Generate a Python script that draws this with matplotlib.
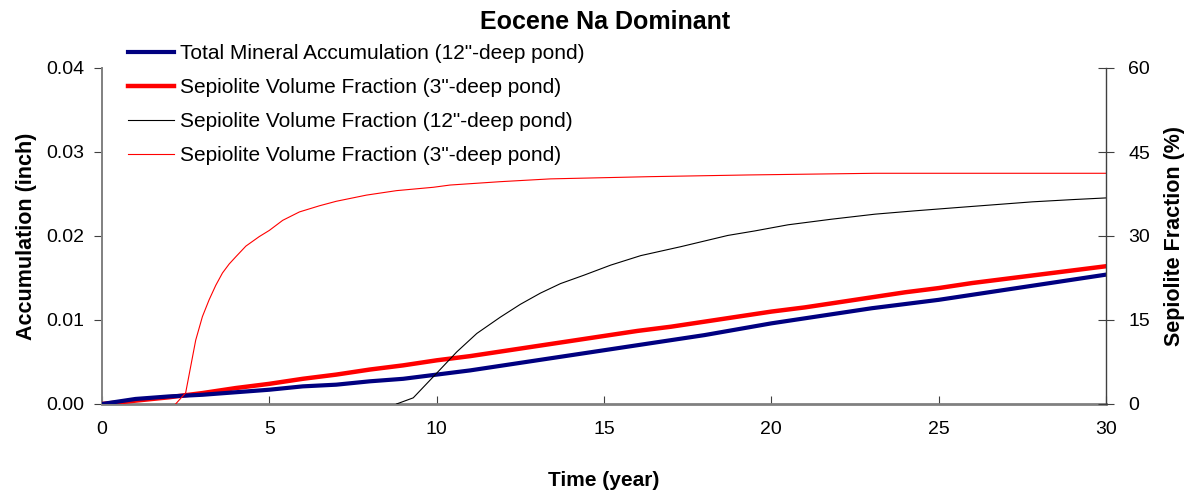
import matplotlib.pyplot as plt
import numpy as np

plt.rcParams["font.family"] = ["Liberation Sans", "DejaVu Sans"]

# yearly accumulation (inch), left axis
years = [0, 1, 2, 3, 4, 5, 6, 7, 8, 9, 10, 11, 12, 13, 14, 15,
         16, 17, 18, 19, 20, 21, 22, 23, 24, 25, 26, 27, 28, 29, 30]
total_12in = [0.0, 0.0006, 0.0009, 0.0011, 0.0014, 0.0017, 0.0021, 0.0023,
              0.0027, 0.0030, 0.0035, 0.0040, 0.0046, 0.0052, 0.0058, 0.0064,
              0.0070, 0.0076, 0.0082, 0.0089, 0.0096, 0.0102, 0.0108, 0.0114,
              0.0119, 0.0124, 0.0130, 0.0136, 0.0142, 0.0148, 0.0154]
total_3in = [0.0, 0.0004, 0.0008, 0.0013, 0.0019, 0.0024, 0.0030, 0.0035,
             0.0041, 0.0046, 0.0052, 0.0057, 0.0063, 0.0069, 0.0075, 0.0081,
             0.0087, 0.0092, 0.0098, 0.0104, 0.0110, 0.0115, 0.0121, 0.0127,
             0.0133, 0.0138, 0.0144, 0.0149, 0.0154, 0.0159, 0.0164]

# sepiolite volume fraction (%), right axis
t_sep_12in = [8.8, 9.3, 10.0, 10.6, 11.2, 11.9, 12.5, 13.1, 13.7, 14.4,
              15.2, 16.1, 17.3, 18.7, 19.5, 20.5, 21.8, 23.1, 24.3, 25.6,
              26.7, 27.8, 29.0, 30.0]
sep_12in = [0.0, 1.1, 5.5, 9.3, 12.6, 15.5, 17.8, 19.8, 21.5, 23.0,
            24.8, 26.5, 28.1, 30.1, 30.9, 32.0, 33.0, 33.9, 34.5, 35.1,
            35.6, 36.1, 36.5, 36.8]
t_sep_3in = [2.2, 2.5, 2.8, 3.0, 3.2, 3.4, 3.6, 3.8, 4.0, 4.3, 4.7, 5.0,
             5.4, 5.9, 6.5, 7.0, 7.9, 8.8, 9.9, 10.4, 11.9, 13.4, 16.4,
             19.3, 23.1, 30.0]
sep_3in = [0.0, 2.0, 11.4, 15.6, 18.6, 21.2, 23.4, 25.0, 26.3, 28.2, 29.9,
           31.0, 32.8, 34.3, 35.4, 36.2, 37.3, 38.1, 38.7, 39.1, 39.7, 40.2,
           40.6, 40.9, 41.2, 41.2]

fig = plt.figure(figsize=(11.85, 4.93), dpi=100)
ax = fig.add_axes([102 / 1185, 1 - 404 / 493, 1004 / 1185, 336 / 493])
ax2 = ax.twinx()

l1, = ax.plot(years, total_12in, color="#000080", lw=3.0, zorder=4,
              label="Total Mineral Accumulation (12\"-deep pond)")
l2, = ax.plot(years, total_3in, color="#FF0000", lw=3.2, zorder=3,
              label="Sepiolite Volume Fraction (3\"-deep pond)")
l3, = ax2.plot(t_sep_12in, sep_12in, color="black", lw=0.8,
               label="Sepiolite Volume Fraction (12\"-deep pond)")
l4, = ax2.plot(t_sep_3in, sep_3in, color="#FF0000", lw=0.8,
               label="Sepiolite Volume Fraction (3\"-deep pond)")

ax.set_xlim(0, 30)
ax.set_ylim(0, 0.04)
ax2.set_ylim(0, 60)
ax.set_xticks(np.arange(0, 31, 5))
ax.set_yticks(np.arange(0, 0.041, 0.01))
ax.set_yticklabels([f"{v:.2f}" for v in np.arange(0, 0.041, 0.01)])
ax2.set_yticks(np.arange(0, 61, 15))

for a in (ax, ax2):
    a.spines["top"].set_visible(False)
    a.set_facecolor("none")
ax.spines["left"].set_color("#808080")
ax.spines["left"].set_linewidth(1.4)
ax.spines["bottom"].set_color("#808080")
ax.spines["bottom"].set_linewidth(2.0)
ax.spines["right"].set_visible(False)
ax2.spines["left"].set_visible(False)
ax2.spines["bottom"].set_visible(False)
ax2.spines["right"].set_color("#404040")
ax2.spines["right"].set_linewidth(1.0)

ax.tick_params(axis="x", direction="in", length=6, pad=12, labelsize=14,
               color="#404040")
ax.tick_params(axis="y", direction="out", length=6, pad=7, labelsize=14,
               color="#404040")
ax2.tick_params(axis="y", direction="inout", length=12, pad=10, labelsize=14,
                color="#404040")

ax.set_xlabel("Time (year)", fontsize=15, fontweight="bold", labelpad=24)
ax.set_ylabel("Accumulation (inch)", fontsize=15.5, fontweight="bold",
              labelpad=6)
ax2.set_ylabel("Sepiolite Fraction (%)", fontsize=15.5, fontweight="bold",
               labelpad=10)

fig.text(605 / 1185, 1 - 22 / 493, "Eocene Na Dominant", fontsize=18,
         fontweight="bold", ha="center", va="center")

fig.legend(handles=[l1, l2, l3, l4], loc="upper left",
           bbox_to_anchor=(128 / 1185, 1 - 44 / 493), frameon=False,
           fontsize=15, handlelength=2.2, handletextpad=0.3,
           labelspacing=0.72, borderpad=0, borderaxespad=0)

fig.savefig("out.png", dpi=100)
